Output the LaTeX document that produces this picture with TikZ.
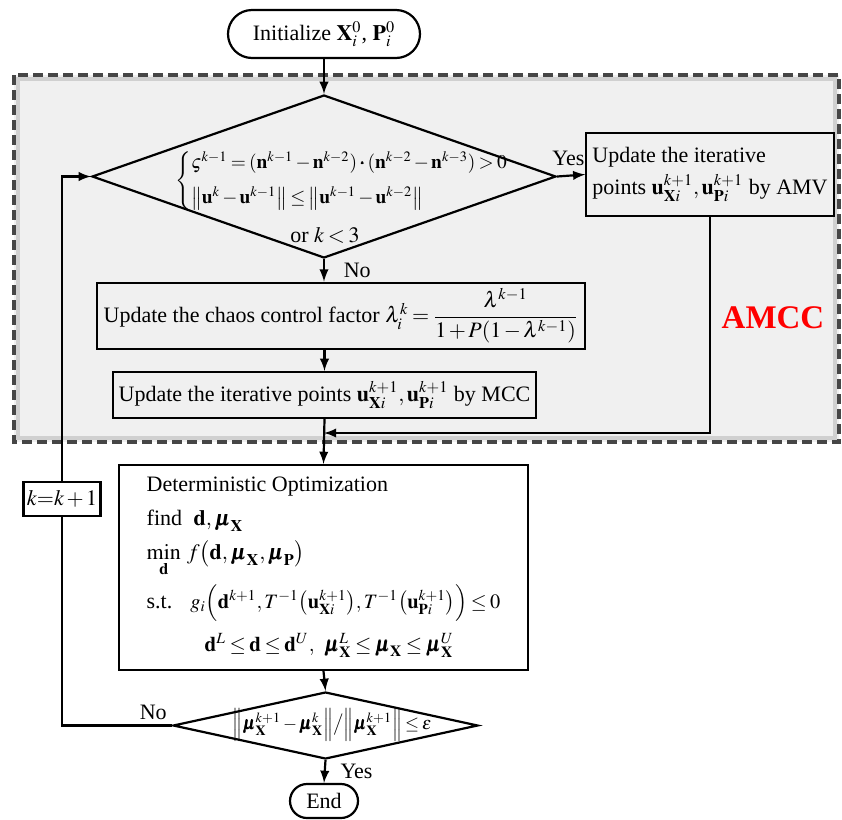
\documentclass[tikz,border=0pt]{standalone}
\usepackage{amsmath}
\usepackage{mathptmx}
\usepackage{bm}
\usepackage{fontspec}
\setmainfont{Liberation Serif}
\usetikzlibrary{positioning}
\usetikzlibrary{calc}
\usetikzlibrary{arrows}
\usetikzlibrary{shapes.geometric}
\definecolor{regionfill}{RGB}{240,240,240}
\definecolor{regionline}{RGB}{70,70,70}
\newcommand{\bX}{\mathbf{X}}
\newcommand{\bP}{\mathbf{P}}
\thinmuskip=2mu
\medmuskip=2mu plus 1mu minus 1mu
\thickmuskip=3mu plus 2mu

\begin{document}
\begin{tikzpicture}[x=0.5pt, y=-0.5pt, >=latex,
		font=\fontsize{11}{13}\selectfont,
		box/.style={draw, line width=1.1pt, fill=white, inner sep=3pt},
		termbox/.style={draw, line width=1.1pt, fill=white, rounded corners=12pt},
		decbox/.style={draw, diamond, line width=1.1pt, fill=white, inner sep=0pt},
		flow/.style={line width=1.1pt}]
			\useasboundingbox (0,0) rectangle (842,820);
			%\draw[step=50,gray,very thin] (0,0) grid (842,820);
			% AMCC region
			\fill[regionfill] (14,75) rectangle (839,442);
			\draw[gray!60, line width=2pt, opacity=0.5] (18,79) rectangle (835,438);
			\draw[regionline, line width=1.6pt, dash pattern=on 5pt off 2.5pt] (14,75) rectangle (839,442);
			\node[text=red, font=\fontsize{16.5}{18}\selectfont\bfseries] (amcc) at (773,318) {AMCC};
			% blocks
			\node[termbox, minimum width=96pt, minimum height=24pt] (init) at (324,34) {Initialize $\bX_i^0$, $\bP_i^0$};
			\node[decbox, fill=regionfill, minimum width=232pt, minimum height=81.5pt] (dec1) at (324,176.5) {};
			\node[anchor=west, inner sep=0pt, font=\fontsize{9.7}{11}\selectfont] (cond) at (175,181) {$\left\{\begin{array}{@{}l@{}}
				\varsigma^{k-1}=(\mathbf{n}^{k-1}-\mathbf{n}^{k-2})\boldsymbol{\cdot}(\mathbf{n}^{k-2}-\mathbf{n}^{k-3})>0\\[6pt]
				\bigl\|\mathbf{u}^{k}-\mathbf{u}^{k-1}\bigr\|\le\bigl\|\mathbf{u}^{k-1}-\mathbf{u}^{k-2}\bigr\|
				\end{array}\right.$};
			\node (ork) at (325,235) {or $k<3$};
			\node[box, fill=regionfill, minimum width=113.5pt, minimum height=41.5pt, align=left] (amv) at (710,174.5)
				{Update the iterative\\[3pt] points $\mathbf{u}^{k+1}_{\bX i},\mathbf{u}^{k+1}_{\bP i}$ by AMV};
			\node[box, fill=regionfill, minimum width=244pt, minimum height=31pt] (chaos) at (341,316)
				{Update the chaos control factor $\lambda_i^k=\dfrac{\lambda^{k-1}}{1+P(1-\lambda^{k-1})}$};
			\node[box, fill=regionfill, minimum width=205.5pt, minimum height=23pt] (mcc) at (324.5,395)
				{Update the iterative points $\mathbf{u}^{k+1}_{\bX i},\mathbf{u}^{k+1}_{\bP i}$ by MCC};
			\node[box, minimum width=204.5pt, minimum height=102.5pt, align=left] (detopt) at (323.5,567.5)
				{Deterministic Optimization\\[4pt]
				find\; $\mathbf{d},\bm{\mu}_{\bX}$\\[4pt]
				$\mathop{\mathrm{min}}\limits_{\mathbf{d}}\; f\bigl(\mathbf{d},\bm{\mu}_{\bX},\bm{\mu}_{\bP}\bigr)$\\[3pt]
				s.t.\hspace{9pt}{\fontsize{10.2}{12}\selectfont$g_i\Bigl(\mathbf{d}^{k+1},T^{-1}\bigl(\mathbf{u}^{k+1}_{\bX i}\bigr),T^{-1}\bigl(\mathbf{u}^{k+1}_{\bP i}\bigr)\Bigr)\le0$}\\[5pt]
				\hspace*{29pt}{\fontsize{10.5}{12}\selectfont$\mathbf{d}^{L}\le\mathbf{d}\le\mathbf{d}^{U},\;\;\bm{\mu}^{L}_{\bX}\le\bm{\mu}_{\bX}\le\bm{\mu}^{U}_{\bX}$}};
			\node[decbox, minimum width=152.5pt, minimum height=33.5pt] (dec2) at (325.5,725.5) {};
			\node[inner sep=0pt, font=\fontsize{9}{11}\selectfont] (conv) at (332,725) {$\Bigl\|\bm{\mu}^{k+1}_{\bX}-\bm{\mu}^{k}_{\bX}\Bigr\|\big/\Bigl\|\bm{\mu}^{k+1}_{\bX}\Bigr\|\le\varepsilon$};
			\node[termbox, rounded corners=8.5pt, minimum width=34pt, minimum height=17pt] (fin) at (324,801) {End};
			% connectors
			\coordinate (merge) at (324,433);
			\coordinate (loopc) at (62,725.5);
			\draw[flow,->] (init) -- (dec1);
			\draw[flow,->] (dec1.east) -- node[above=1pt, pos=0.4] {Yes} (amv.west);
			\draw[flow,->] (dec1.south) -- node[right=6pt] {No} (dec1.south |- chaos.north);
			\draw[flow,->] (mcc.north |- chaos.south) -- (mcc.north);
			\draw[flow,->] (amv.south) |- (merge);
			\draw[flow,->] (mcc.south) -- (detopt.north);
			\draw[flow,->] (detopt.south) -- (dec2.north);
			\draw[flow,->] (dec2.south) -- node[right=4pt] {Yes} (fin.north);
			\draw[flow,->] (dec2.west) -- node[above=-1pt, pos=0.17] {No} (loopc) |- (dec1.west);
			\node[box, minimum width=38.5pt, minimum height=17pt, inner sep=1pt] (kbox) at (62,499) {$k{=}k+1$};
		\end{tikzpicture}
\end{document}
